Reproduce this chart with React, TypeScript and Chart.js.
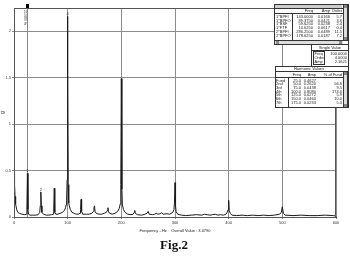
import React, { useEffect, useRef } from 'react';
import { Chart, registerables } from 'chart.js';

Chart.register(...registerables);

// Spectrum (frequency in Hz, amplitude in g)
const freqs = [
  0, 1, 2, 3, 5, 7, 10, 15, 20, 23,
  24, 25, 26, 27, 30, 35, 40, 45, 48, 49,
  50, 51, 52, 55, 60, 65, 70, 73, 74, 75,
  76, 78, 82, 86, 90, 94, 96, 97, 98, 99,
  99.5, 100, 100.5, 101, 102, 103, 105, 108, 112, 116,
  120, 123, 124, 125, 126, 128, 135, 140, 145, 148,
  149, 150, 151, 153, 158, 163, 168, 172, 174, 175,
  176, 178, 183, 188, 193, 196, 198, 199, 200, 201,
  202, 204, 207, 212, 218, 222, 224, 225, 226, 230,
  238, 244, 248, 250, 252, 258, 262, 265, 268, 272,
  275, 278, 285, 290, 296, 298, 299, 300, 301, 302,
  305, 312, 320, 330, 340, 350, 355, 360, 365, 370,
  375, 380, 385, 390, 395, 397, 399, 400, 401, 403,
  406, 415, 425, 435, 445, 455, 465, 475, 485, 495,
  498, 500, 502, 505, 520, 535, 550, 565, 580, 595,
  600,
];
const amps = [
  0.48, 0.35, 0.22, 0.14, 0.08, 0.05, 0.04, 0.03, 0.025, 0.03,
  0.08, 0.47, 0.08, 0.03, 0.02, 0.02, 0.02, 0.025, 0.05, 0.12,
  0.27, 0.12, 0.05, 0.03, 0.02, 0.02, 0.025, 0.03, 0.06, 0.31,
  0.05, 0.03, 0.03, 0.04, 0.05, 0.07, 0.1, 0.13, 0.18, 0.4,
  1.69, 2.16, 1.6, 0.35, 0.15, 0.12, 0.08, 0.05, 0.04, 0.03,
  0.03, 0.04, 0.08, 0.19, 0.06, 0.03, 0.03, 0.03, 0.04, 0.06,
  0.1, 0.12, 0.06, 0.04, 0.03, 0.03, 0.04, 0.05, 0.07, 0.1,
  0.06, 0.04, 0.03, 0.04, 0.06, 0.09, 0.14, 0.35, 1.49, 0.3,
  0.13, 0.08, 0.05, 0.03, 0.025, 0.03, 0.05, 0.07, 0.04, 0.025,
  0.02, 0.03, 0.04, 0.06, 0.03, 0.025, 0.03, 0.04, 0.03, 0.035,
  0.045, 0.03, 0.035, 0.03, 0.05, 0.08, 0.15, 0.37, 0.12, 0.06,
  0.03, 0.02, 0.015, 0.02, 0.025, 0.02, 0.03, 0.025, 0.02, 0.025,
  0.03, 0.02, 0.025, 0.02, 0.03, 0.05, 0.08, 0.18, 0.07, 0.04,
  0.02, 0.015, 0.02, 0.015, 0.02, 0.015, 0.02, 0.015, 0.02, 0.03,
  0.05, 0.11, 0.04, 0.02, 0.015, 0.02, 0.015, 0.015, 0.02, 0.015,
  0.01,
];

const xTicks = [0, 100, 200, 300, 400, 500, 600];
const yTicks = [0, 0.5, 1, 1.5, 2];
const xMax = 600;
const yMax = 2.25;
const xTitle = 'Frequency - Hz    Overall Value : 3.0790';
const yTitle = 'g';
const caption = 'Fig.2';

const cursorFreq = 25;
const cursorLabel = '25.0000 Hz';
const markerFreqs = [25, 50, 100];
const markerLabels = ['1', '2', '4'];

// Fault frequency table
const faultNames = ['1*BPFI', '1*BPFO', '1*BSF', '1*FTF', '2*BPFI', '2*BPFO'];
const faultFreq = ['143.0000', '89.3750', '59.6250', '10.6250', '286.2500', '178.6250'];
const faultAmp = ['0.0166', '0.0421', '0.0238', '0.0617', '0.0489', '0.0187'];
const faultOrder = ['5.7', '3.6', '2.4', '0.4', '11.5', '7.2'];

// Single value table
const singleNames = ['Freq', 'Order', 'Amp'];
const singleValues = ['100.0000', '4.0000', '2.1621'];

// Harmonic values table
const harmNames = ['Fund', '2nd', '3rd', '4th', '5th', '6th', '7th'];
const harmFreq = ['25.0', '50.0', '75.0', '100.0', '125.0', '150.0', '175.0'];
const harmAmp = ['0.4627', '0.2620', '0.0438', '0.8080', '0.0272', '0.0460', '0.0233'];
const harmPct = ['', '56.6', '9.5', '174.6', '5.9', '10.0', '5.0'];

const FONT = '"Liberation Sans", Arial, sans-serif';

function box(ctx: CanvasRenderingContext2D, x: number, y: number, w: number, h: number, fill = '#fff') {
  ctx.fillStyle = fill;
  ctx.fillRect(x, y, w, h);
  ctx.strokeStyle = '#333';
  ctx.lineWidth = 1;
  ctx.strokeRect(x + 0.5, y + 0.5, w - 1, h - 1);
}

function hline(ctx: CanvasRenderingContext2D, x1: number, x2: number, y: number) {
  ctx.beginPath();
  ctx.moveTo(x1, y + 0.5);
  ctx.lineTo(x2, y + 0.5);
  ctx.stroke();
}
function vline(ctx: CanvasRenderingContext2D, x: number, y1: number, y2: number) {
  ctx.beginPath();
  ctx.moveTo(x + 0.5, y1);
  ctx.lineTo(x + 0.5, y2);
  ctx.stroke();
}

function text(ctx: CanvasRenderingContext2D, s: string, x: number, y: number, align: CanvasTextAlign) {
  ctx.textAlign = align;
  ctx.textBaseline = 'middle';
  ctx.fillText(s, x, y);
}

function vScrollbar(ctx: CanvasRenderingContext2D, x: number, y: number, h: number) {
  ctx.fillStyle = '#ddd';
  ctx.fillRect(x, y, 5, h);
  ctx.strokeStyle = '#333';
  ctx.strokeRect(x + 0.5, y + 0.5, 4, h - 1);
  ctx.fillStyle = '#888';
  ctx.fillRect(x + 1, y + 1, 3, 3);
  ctx.fillRect(x + 1, y + h - 4, 3, 3);
}

const framePlugin = {
  id: 'frameAndTables',
  beforeDatasetsDraw(chart: any) {
    const { ctx, chartArea, scales } = chart;
    const cx = Math.round(scales.x.getPixelForValue(cursorFreq));
    ctx.save();
    ctx.strokeStyle = '#888';
    ctx.lineWidth = 1;
    vline(ctx, cx, chartArea.top, chartArea.bottom);
    ctx.restore();
  },
  afterDatasetsDraw(chart: any) {
    const { ctx, chartArea, scales } = chart;
    ctx.save();
    ctx.strokeStyle = '#555';
    ctx.lineWidth = 1;
    ctx.strokeRect(Math.round(chartArea.left) + 0.5, Math.round(chartArea.top) + 0.5,
      Math.round(chartArea.right - chartArea.left) - 1, Math.round(chartArea.bottom - chartArea.top));

    const cx = Math.round(scales.x.getPixelForValue(cursorFreq));
    ctx.fillStyle = '#000';
    ctx.fillRect(cx - 1, chartArea.top - 4, 3, 4);
    ctx.save();
    ctx.translate(cx - 2, chartArea.top + 2);
    ctx.rotate(Math.PI / 2);
    ctx.font = `3px ${FONT}`;
    ctx.fillStyle = '#333';
    ctx.textAlign = 'left';
    ctx.textBaseline = 'middle';
    ctx.fillText(cursorLabel, 0, 0);
    ctx.restore();

    ctx.font = `4px ${FONT}`;
    ctx.fillStyle = '#333';
    markerFreqs.forEach((f, i) => {
      const idx = freqs.indexOf(f);
      const px = scales.x.getPixelForValue(f);
      const py = scales.y.getPixelForValue(amps[idx]);
      text(ctx, markerLabels[i], px, py - 2, 'center');
    });

    // ---- fault frequency table ----
    ctx.strokeStyle = '#333';
    box(ctx, 274, 4, 75, 41);
    ctx.fillStyle = '#ccc';
    ctx.fillRect(275, 5, 67, 3);
    ctx.strokeStyle = '#333';
    hline(ctx, 274, 343, 8);
    hline(ctx, 274, 343, 13);
    vline(ctx, 292, 13, 40);
    vScrollbar(ctx, 343, 4, 37);
    ctx.fillStyle = '#ddd';
    ctx.fillRect(275, 40, 68, 4);
    ctx.strokeStyle = '#333';
    hline(ctx, 274, 349, 40);
    ctx.fillStyle = '#888';
    ctx.fillRect(276, 41, 3, 3);
    ctx.fillRect(339, 41, 3, 3);
    ctx.fillStyle = '#222';
    ctx.font = `4px ${FONT}`;
    text(ctx, 'Freq', 313, 10.5, 'right');
    text(ctx, 'Amp', 330, 10.5, 'right');
    text(ctx, 'Order', 342, 10.5, 'right');
    faultNames.forEach((n, i) => {
      const y = 16.5 + i * 3.9;
      text(ctx, n, 276, y, 'left');
      text(ctx, faultFreq[i], 313, y, 'right');
      text(ctx, faultAmp[i], 330, y, 'right');
      text(ctx, faultOrder[i], 342, y, 'right');
    });

    // ---- single value table ----
    box(ctx, 311, 44, 38, 23);
    ctx.strokeStyle = '#333';
    hline(ctx, 311, 349, 50);
    ctx.strokeRect(313.5, 51.5, 11, 13);
    ctx.fillStyle = '#222';
    text(ctx, 'Single Value', 330, 47.5, 'center');
    singleNames.forEach((n, i) => {
      const y = 53.5 + i * 4.2;
      text(ctx, n, 314.5, y, 'left');
      text(ctx, singleValues[i], 347, y, 'right');
    });

    // ---- harmonic values table ----
    box(ctx, 275, 66, 74, 42);
    ctx.strokeStyle = '#333';
    hline(ctx, 275, 349, 71);
    hline(ctx, 275, 343, 77);
    vline(ctx, 288, 77, 107);
    vScrollbar(ctx, 343, 71, 37);
    ctx.fillStyle = '#222';
    text(ctx, 'Harmonic Values', 309, 68.8, 'center');
    text(ctx, 'Freq', 301, 74.5, 'right');
    text(ctx, 'Amp', 316, 74.5, 'right');
    text(ctx, '% of Fund', 342, 74.5, 'right');
    harmNames.forEach((n, i) => {
      const y = 80.5 + i * 3.7;
      text(ctx, n, 276, y, 'left');
      text(ctx, harmFreq[i], 301, y, 'right');
      text(ctx, harmAmp[i], 316, y, 'right');
      text(ctx, harmPct[i], 342, y, 'right');
    });
    ctx.restore();
  },
};

export default function App() {
  const ref = useRef<HTMLCanvasElement | null>(null);

  useEffect(() => {
    if (!ref.current) return;
    const chart = new Chart(ref.current, {
      type: 'line',
      data: {
        datasets: [
          {
            data: freqs.map((f, i) => ({ x: f, y: amps[i] })),
            borderColor: '#1a1a1a',
            borderWidth: 1,
            pointRadius: 0,
            tension: 0,
            fill: false,
          },
        ],
      },
      options: {
        responsive: false,
        animation: false,
        events: [],
        layout: { padding: { left: 0, right: 14, top: 8, bottom: 27 } },
        plugins: { legend: { display: false }, tooltip: { enabled: false } },
        scales: {
          x: {
            type: 'linear',
            min: 0,
            max: xMax,
            afterBuildTicks: (s: any) => { s.ticks = xTicks.map((v) => ({ value: v })); },
            afterFit: (s: any) => { s.height = 16; },
            ticks: { font: { size: 4, family: FONT }, color: '#333', padding: 1, maxRotation: 0, autoSkip: false },
            grid: { color: '#8c8c8c', lineWidth: 1, tickLength: 2, drawTicks: true },
            border: { color: '#333' },
            title: { display: true, text: xTitle, font: { size: 4, family: FONT }, color: '#222', padding: 0 },
          },
          y: {
            min: 0,
            max: yMax,
            afterBuildTicks: (s: any) => { s.ticks = yTicks.map((v) => ({ value: v })); },
            afterFit: (s: any) => { s.width = 14; },
            ticks: { font: { size: 4, family: FONT }, color: '#333', padding: 1, callback: (v: any) => String(v) },
            grid: { color: '#8c8c8c', lineWidth: 1, tickLength: 2 },
            border: { color: '#555' },
            title: { display: true, text: yTitle, font: { size: 5, family: FONT }, color: '#222', padding: 0 },
          },
        },
      },
      plugins: [framePlugin],
    } as any);
    return () => chart.destroy();
  }, []);

  return (
    <div style={{ position: 'fixed', left: 0, top: 0, width: 350, height: 260, background: '#fff' }}>
      <canvas ref={ref} width={350} height={260} style={{ display: 'block' }} />
      <div
        style={{
          position: 'absolute',
          left: 0,
          top: 238,
          width: 348,
          textAlign: 'center',
          fontFamily: '"Liberation Serif", "Times New Roman", serif',
          fontWeight: 'bold',
          fontSize: 13,
          lineHeight: '14px',
          color: '#111',
        }}
      >
        {caption}
      </div>
    </div>
  );
}
